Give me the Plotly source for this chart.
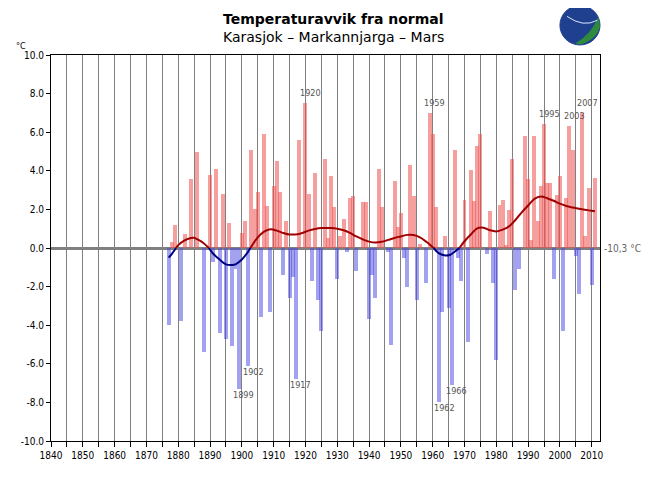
import plotly.graph_objects as go

# ---- data ----
years = [1877, 1878, 1879, 1881, 1882, 1884, 1886, 1888, 1890, 1891, 1892, 1893, 1894, 1895,
         1896, 1897, 1898, 1899, 1900, 1901, 1902, 1903, 1904, 1905, 1906, 1907, 1908, 1909,
         1910, 1911, 1912, 1913, 1914, 1915, 1916, 1917, 1918, 1920, 1921, 1922, 1923, 1924,
         1925, 1926, 1927, 1928, 1929, 1930, 1931, 1932, 1933, 1934, 1935, 1936, 1938, 1939,
         1940, 1941, 1942, 1943, 1944, 1946, 1947, 1948, 1949, 1950, 1951, 1952, 1953, 1954,
         1955, 1956, 1958, 1959, 1960, 1961, 1962, 1963, 1964, 1965, 1966, 1967, 1968, 1969,
         1970, 1971, 1972, 1973, 1974, 1975, 1977, 1978, 1979, 1980,
         1981, 1982, 1983, 1984, 1985, 1986, 1987, 1989, 1990, 1991, 1992, 1993, 1994,
         1995, 1996, 1997, 1998, 1999, 2000, 2001, 2002, 2003, 2004, 2005, 2006, 2007,
         2008, 2009, 2010, 2011]
values = [-4.0, 0.3, 1.2, -3.8, 0.7, 3.6, 5.0, -5.4, 3.8, -0.7, 4.1, -4.4, 2.8, -4.7,
          1.3, -5.1, -1.1, -7.3, 0.8, 1.4, -6.1, 5.1, 2.0, 2.9, -3.6, 5.9, 2.2, -3.3,
          3.2, 4.5, 2.9, -1.4, 1.4, -2.6, -1.5, -6.8, 5.6, 7.5, 2.8, -1.7, 3.9, -2.7,
          -4.3, 4.6, 0.5, 3.75, 2.15, -1.6, 0.6, 1.5, -0.2, 2.6, 2.7, -1.2, 2.4, 2.4,
          -3.7, -1.4, -2.6, 4.1, 2.1, -0.2, -5.0, 3.45, 1.1, 1.8, -0.5, -2.0, 4.3, 2.7,
          -2.7, 0.2, -1.8, 7.0, 5.9, 2.1, -8.0, -3.3, 0.6, -3.1, -7.1, 5.1, -0.5, -1.7,
          2.5, -4.85, 4.05, 2.45, 5.3, 5.9, -0.3, 1.9, -1.8, -5.8,
          2.25, 2.5, 0.15, 1.95, 4.6, -2.2, -1.1, 5.8, 3.55, 0.4, 5.8, 1.4, 3.2,
          6.45, 3.35, 3.35, -1.6, 2.75, 3.75, -4.3, 2.6, 6.3, 5.1, -0.4, -2.4, 7.0,
          0.6, 3.1, -1.9, 3.65]

curve_years = [1877, 1878, 1879.3, 1880, 1882, 1884, 1885, 1886, 1888, 1889.6, 1891, 1893,
               1895, 1897, 1898, 1900, 1901.5, 1902.7, 1905, 1907, 1909, 1911, 1913, 1915,
               1918, 1921, 1923, 1925, 1928, 1930, 1932, 1934, 1936, 1938, 1940, 1942, 1944,
               1946, 1948, 1950, 1952, 1954, 1956, 1958, 1960.3, 1962, 1964, 1965.5, 1967,
               1968.4, 1970, 1972, 1974, 1976, 1978, 1980, 1982, 1984, 1986, 1988, 1990,
               1992, 1994, 1996, 1998, 2000, 2002, 2004, 2006, 2008, 2010, 2011]
curve_values = [-0.5, -0.3, 0.0, 0.15, 0.4, 0.52, 0.53, 0.45, 0.25, 0.0, -0.3, -0.6,
                -0.85, -0.88, -0.85, -0.6, -0.3, 0.0, 0.55, 0.85, 0.97, 0.9, 0.78, 0.7,
                0.73, 0.9, 0.98, 1.03, 1.03, 1.0, 0.92, 0.78, 0.6, 0.45, 0.33, 0.28, 0.32,
                0.42, 0.52, 0.6, 0.68, 0.67, 0.55, 0.32, 0.0, -0.28, -0.39, -0.35, -0.18,
                0.0, 0.35, 0.7, 1.02, 1.05, 0.92, 0.86, 0.95, 1.12, 1.45, 1.85, 2.2,
                2.55, 2.67, 2.58, 2.45, 2.3, 2.18, 2.1, 2.03, 1.98, 1.93, 1.9]

x_tick_years = list(range(1840, 2011, 10))
y_tick_values = list(range(-10, 11, 2))
y_tick_text = ["%.1f" % v for v in y_tick_values]

extreme_top = [1920, 1959, 1995, 2003, 2007]
extreme_bottom = [1899, 1902, 1917, 1962, 1966]

title = "Temperaturavvik fra normal"
subtitle = "Karasjok \u2013 Markannjarga \u2013 Mars"
normal_label = "-10,3 \u00b0C"

FONT = "DejaVu Sans Condensed, DejaVu Sans, sans-serif"

fig = go.Figure()

pos_x = [y for y, v in zip(years, values) if v >= 0]
pos_y = [v for v in values if v >= 0]
neg_x = [y for y, v in zip(years, values) if v < 0]
neg_y = [v for v in values if v < 0]

fig.add_trace(go.Bar(x=pos_x, y=pos_y, width=1.25, marker=dict(color="rgba(238,80,80,0.55)", line=dict(width=0)),
                     showlegend=False, hoverinfo="x+y"))
fig.add_trace(go.Bar(x=neg_x, y=neg_y, width=1.25, marker=dict(color="rgba(70,70,225,0.5)", line=dict(width=0)),
                     showlegend=False, hoverinfo="x+y"))

cp = [v if v >= 0 else None for v in curve_values]
cn = [v if v <= 0 else None for v in curve_values]
fig.add_trace(go.Scatter(x=curve_years, y=cp, mode="lines", line=dict(color="#a00000", width=2, shape="spline"),
                         connectgaps=False, showlegend=False))
fig.add_trace(go.Scatter(x=curve_years, y=cn, mode="lines", line=dict(color="#000080", width=2, shape="spline"),
                         connectgaps=False, showlegend=False))

val_by_year = dict(zip(years, values))
ann = []
for yr in extreme_top:
    ann.append(dict(x=yr, y=val_by_year[yr], text=str(yr), showarrow=False, xshift=5, yshift=10,
                    font=dict(size=9, color="#555555", family=FONT)))
for yr in extreme_bottom:
    ann.append(dict(x=yr, y=val_by_year[yr], text=str(yr), showarrow=False, xshift=5, yshift=-6,
                    font=dict(size=9, color="#555555", family=FONT)))
ann.append(dict(xref="paper", x=1, y=0, xanchor="left", xshift=2, text=normal_label, showarrow=False,
                font=dict(size=10, color="#666666", family=FONT)))
ann.append(dict(xref="paper", yref="paper", x=-0.055, y=1.023, xanchor="center", yanchor="middle",
                text="\u00b0C", showarrow=False, font=dict(size=9, color="black", family=FONT)))
ann.append(dict(xref="paper", yref="paper", x=0.515, y=1.094, xanchor="center", yanchor="middle",
                text="<b>" + title + "</b>", showarrow=False, font=dict(size=14, color="black", family="DejaVu Sans")))
ann.append(dict(xref="paper", yref="paper", x=0.515, y=1.046, xanchor="center", yanchor="middle",
                text=subtitle, showarrow=False, font=dict(size=14, color="black", family="DejaVu Sans")))

# logo (decorative globe)
shapes = [
    dict(type="circle", xref="paper", yref="paper", x0=0.927, x1=1.0, y0=1.026, y1=1.128,
         fillcolor="#1f3f8f", line=dict(color="#1f3f8f", width=1), layer="above"),
    dict(type="path", xref="paper", yref="paper",
         path="M 0.955 1.03 Q 0.985 1.055 0.997 1.10 L 1.0 1.075 Q 0.995 1.04 0.964 1.027 Z",
         fillcolor="#2e8b3e", line=dict(width=0), layer="above"),
    dict(type="path", xref="paper", yref="paper",
         path="M 0.94 1.10 Q 0.97 1.07 0.995 1.09", line=dict(color="#dde8ff", width=1), layer="above"),
]

fig.update_layout(
    width=642, height=492,
    margin=dict(l=43, r=50, t=47, b=59),
    paper_bgcolor="white", plot_bgcolor="white",
    barmode="overlay", bargap=0,
    annotations=ann, shapes=shapes,
    font=dict(family=FONT, size=9, color="black"),
    xaxis=dict(range=[1840, 2012.6], tickmode="array", tickvals=x_tick_years,
               ticktext=[str(t) for t in x_tick_years],
               showgrid=True, gridcolor="#808080", gridwidth=1,
               ticks="outside", ticklen=5, tickcolor="black",
               minor=dict(tickmode="linear", tick0=1840, dtick=5, showgrid=True, gridcolor="#808080",
                          gridwidth=1, ticks="outside", ticklen=5, tickcolor="black"),
               showline=True, linecolor="black", linewidth=1, mirror=True,
               zeroline=False, tickfont=dict(size=10, family=FONT)),
    yaxis=dict(range=[-10, 10], tickmode="array", tickvals=y_tick_values, ticktext=y_tick_text,
               showgrid=False, ticks="outside", ticklen=4, tickcolor="black",
               showline=True, linecolor="black", linewidth=1, mirror=True,
               zeroline=True, zerolinecolor="#808080", zerolinewidth=3,
               tickfont=dict(size=10, family=FONT)),
)

fig.write_html("out.html")
